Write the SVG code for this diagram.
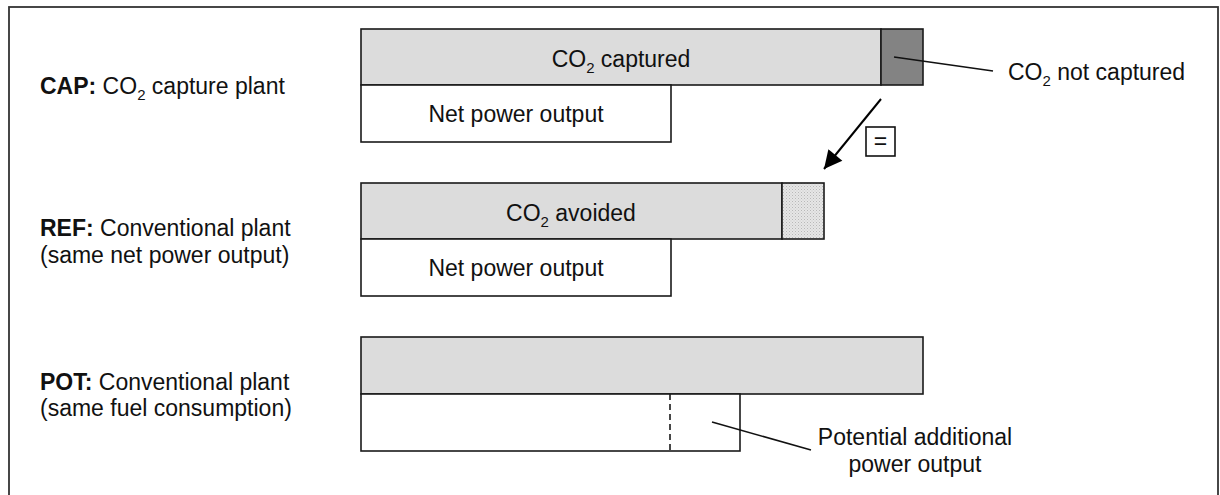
<svg xmlns="http://www.w3.org/2000/svg" width="1220" height="495" viewBox="0 0 1220 495">
<style>
text{font-family:"Liberation Sans",Arial,sans-serif;font-size:23px;fill:#111}
.b{font-weight:bold}
.sub{font-size:15px}
.m{text-anchor:middle}
.box{stroke:#1a1a1a;stroke-width:1.6}
.lg{fill:#dcdcdc}
.wh{fill:#fff}
.dk{fill:#838383}
.ln{stroke:#111;stroke-width:1.6;fill:none}
</style>
<defs>
<pattern id="dots" width="3" height="3" patternUnits="userSpaceOnUse">
<rect width="3" height="3" fill="#e6e6e6"/>
<rect x="0" y="0" width="1" height="1" fill="#b8b8b8"/>
<rect x="1.5" y="1.5" width="1" height="1" fill="#c8c8c8"/>
</pattern>
<marker id="ah" viewBox="0 0 10 10" refX="10" refY="5" markerWidth="19" markerHeight="18" markerUnits="userSpaceOnUse" orient="auto">
<path d="M0,0 L10,5 L0,10 Z" fill="#000"/>
</marker>
</defs>
<rect x="9" y="7" width="1209" height="500" fill="#fff" stroke="#333" stroke-width="1.8"/>

<g id="cap">
<text x="40" y="94"><tspan class="b">CAP:</tspan> CO<tspan class="sub" dy="6">2</tspan><tspan dy="-6"> capture plant</tspan></text>
<rect class="box lg" x="361" y="29" width="520" height="56"/>
<rect class="box dk" x="881" y="29" width="42" height="56"/>
<rect class="box wh" x="361" y="85" width="310" height="57"/>
<text class="m" x="621" y="67">CO<tspan class="sub" dy="6">2</tspan><tspan dy="-6"> captured</tspan></text>
<text class="m" x="516" y="122">Net power output</text>
</g>

<g id="not-captured">
<text x="1008" y="80">CO<tspan class="sub" dy="6">2</tspan><tspan dy="-6"> not captured</tspan></text>
</g>

<g id="ref">
<text x="40" y="236"><tspan class="b">REF:</tspan> Conventional plant</text>
<text x="40" y="263">(same net power output)</text>
<rect class="box lg" x="361" y="183" width="421" height="56"/>
<rect class="box" x="782" y="183" width="42" height="56" fill="url(#dots)"/>
<rect class="box wh" x="361" y="239" width="310" height="57"/>
<text class="m" x="571" y="221">CO<tspan class="sub" dy="6">2</tspan><tspan dy="-6"> avoided</tspan></text>
<text class="m" x="516" y="276">Net power output</text>
</g>

<g id="pot">
<text x="40" y="390"><tspan class="b">POT:</tspan> Conventional plant</text>
<text x="40" y="416">(same fuel consumption)</text>
<rect class="box lg" x="361" y="337" width="562" height="57"/>
<rect class="box wh" x="361" y="394" width="379" height="57"/>
<line x1="670" y1="394" x2="670" y2="451" stroke="#1a1a1a" stroke-width="1.6" stroke-dasharray="6,4"/>
</g>

<g id="additional">
<text class="m" x="915" y="445">Potential additional</text>
<text class="m" x="915" y="472">power output</text>
</g>

<g id="eq">
<rect x="866" y="127" width="29" height="29" fill="#fff" stroke="#111" stroke-width="1.6"/>
<text class="m" x="880.5" y="149">=</text>
</g>

<g id="connectors">
<line class="ln" x1="894" y1="57" x2="993" y2="71"/>
<line class="ln" x1="712" y1="422" x2="811" y2="450"/>
<line x1="881" y1="99" x2="824" y2="169" stroke="#000" stroke-width="2" marker-end="url(#ah)"/>
</g>
</svg>
